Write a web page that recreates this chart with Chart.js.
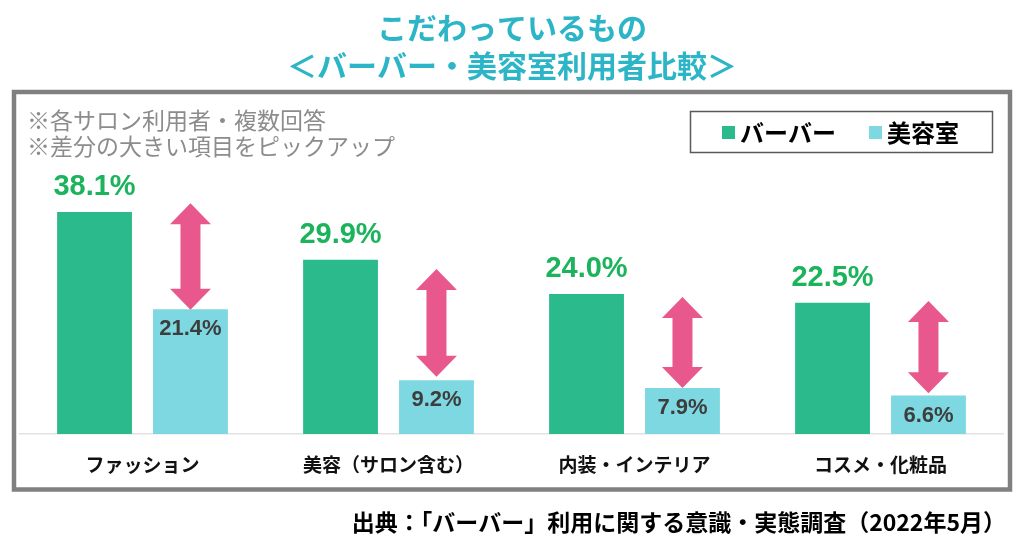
<!DOCTYPE html>
<html lang="ja">
<head>
<meta charset="UTF-8">
<title>こだわっているもの</title>
<script src="https://cdn.jsdelivr.net/npm/chart.js@4.4.1/dist/chart.umd.min.js"></script>
<style>
  html, body { margin: 0; padding: 0; background: #fff; }
  canvas { display: block; }
</style>
</head>
<body>
<canvas id="chart" width="1024" height="538"></canvas>
<script>
// chart data
const categories = ['ファッション', '美容（サロン含む）', '内装・インテリア', 'コスメ・化粧品'];
const seriesNames = ['バーバー', '美容室'];
const barberValues = [38.1, 29.9, 24.0, 22.5];
const salonValues = [21.4, 9.2, 7.9, 6.6];
// ends of the pink arrows (in %)
const arrowTop = [39.6, 28.3, 23.5, 22.8];
const arrowBottom = [21.3, 9.8, 7.9, 7.0];

const titleLines = ['こだわっているもの', '＜バーバー・美容室利用者比較＞'];
const noteLines = ['※各サロン利用者・複数回答', '※差分の大きい項目をピックアップ'];
const sourceText = '出典：「バーバー」利用に関する意識・実態調査（2022年5月）';

const GREEN = '#2bba8c';
const CYAN = '#7dd8e2';
const PINK = '#e9588c';
const CJK = '"Noto Sans CJK JP", "Noto Sans", sans-serif';
const LATIN = '"Liberation Sans", Arial, sans-serif';

// title, frame, notes, legend and source
const decorPlugin = {
  id: 'decor',
  beforeDraw(chart) {
    const ctx = chart.ctx;
    ctx.save();
    ctx.fillStyle = '#fff';
    ctx.fillRect(0, 0, chart.width, chart.height);

    // title
    ctx.fillStyle = '#2cb5c6';
    ctx.font = 'bold 30px ' + CJK;
    ctx.textAlign = 'center';
    ctx.textBaseline = 'middle';
    ctx.fillText(titleLines[0], 512, 28);
    ctx.fillText(titleLines[1], 512, 66);

    // gray frame
    ctx.strokeStyle = '#808080';
    ctx.lineWidth = 4.5;
    ctx.strokeRect(14, 92, 996, 397.5);

    // notes
    ctx.fillStyle = '#8c8c8c';
    ctx.font = '23px ' + CJK;
    ctx.textAlign = 'left';
    ctx.fillText(noteLines[0], 27, 120);
    ctx.fillText(noteLines[1], 27, 146);

    // legend box
    ctx.strokeStyle = '#5a5a5a';
    ctx.lineWidth = 1.5;
    ctx.strokeRect(690.5, 111.5, 302, 41);
    ctx.fillStyle = GREEN;
    ctx.fillRect(722, 126, 13, 13);
    ctx.fillStyle = CYAN;
    ctx.fillRect(869, 126, 13, 13);
    ctx.fillStyle = '#000';
    ctx.font = 'bold 24px ' + CJK;
    ctx.fillText(seriesNames[0], 740, 133);
    ctx.fillText(seriesNames[1], 887, 133);

    // source
    ctx.font = 'bold 23px ' + CJK;
    ctx.textAlign = 'right';
    ctx.fillText(sourceText, 1006, 522);
    ctx.restore();
  }
};

function drawArrow(ctx, x, yTop, yBottom) {
  const headW = 20.5, headH = 21, shaftW = 10;
  ctx.beginPath();
  ctx.moveTo(x, yTop);
  ctx.lineTo(x + headW, yTop + headH);
  ctx.lineTo(x + shaftW, yTop + headH);
  ctx.lineTo(x + shaftW, yBottom - headH);
  ctx.lineTo(x + headW, yBottom - headH);
  ctx.lineTo(x, yBottom);
  ctx.lineTo(x - headW, yBottom - headH);
  ctx.lineTo(x - shaftW, yBottom - headH);
  ctx.lineTo(x - shaftW, yTop + headH);
  ctx.lineTo(x - headW, yTop + headH);
  ctx.closePath();
  ctx.fill();
}

// value labels and difference arrows
const labelPlugin = {
  id: 'labels',
  afterDatasetsDraw(chart) {
    const ctx = chart.ctx;
    const yScale = chart.scales.y;
    ctx.save();
    ctx.textAlign = 'center';
    ctx.textBaseline = 'middle';

    ctx.font = 'bold 29px ' + LATIN;
    ctx.fillStyle = '#1bb35c';
    chart.getDatasetMeta(0).data.forEach((bar, i) => {
      ctx.fillText(barberValues[i].toFixed(1) + '%', bar.x, bar.y - 25);
    });

    chart.getDatasetMeta(1).data.forEach((bar, i) => {
      ctx.font = 'bold 22px ' + LATIN;
      ctx.fillStyle = '#3d3d3d';
      ctx.fillText(salonValues[i].toFixed(1) + '%', bar.x, bar.y + 20);

      ctx.fillStyle = PINK;
      drawArrow(ctx, bar.x, yScale.getPixelForValue(arrowTop[i]), yScale.getPixelForValue(arrowBottom[i]));
    });
    ctx.restore();
  }
};

new Chart(document.getElementById('chart'), {
  type: 'bar',
  data: {
    labels: categories,
    datasets: [{
      label: seriesNames[0],
      data: barberValues,
      backgroundColor: GREEN,
      categoryPercentage: 0.78,
      barPercentage: 0.78
    }, {
      label: seriesNames[1],
      data: salonValues,
      backgroundColor: CYAN,
      categoryPercentage: 0.78,
      barPercentage: 0.78
    }]
  },
  options: {
    responsive: false,
    devicePixelRatio: 1,
    animation: false,
    layout: {
      padding: { left: 19.5, right: 20.5, top: 142.5, bottom: 0 }
    },
    plugins: {
      legend: { display: false },
      tooltip: { enabled: false }
    },
    scales: {
      x: {
        grid: { display: false, drawTicks: false },
        border: { display: true, color: '#e2e2e2', width: 1.5 },
        ticks: {
          color: '#111',
          font: { family: CJK, size: 19, weight: 'bold' },
          padding: 19,
          maxRotation: 0
        },
        afterFit(scale) {
          scale.height = 104;
        }
      },
      y: {
        display: false,
        min: 0,
        max: 50
      }
    }
  },
  plugins: [decorPlugin, labelPlugin]
});
</script>
</body>
</html>
